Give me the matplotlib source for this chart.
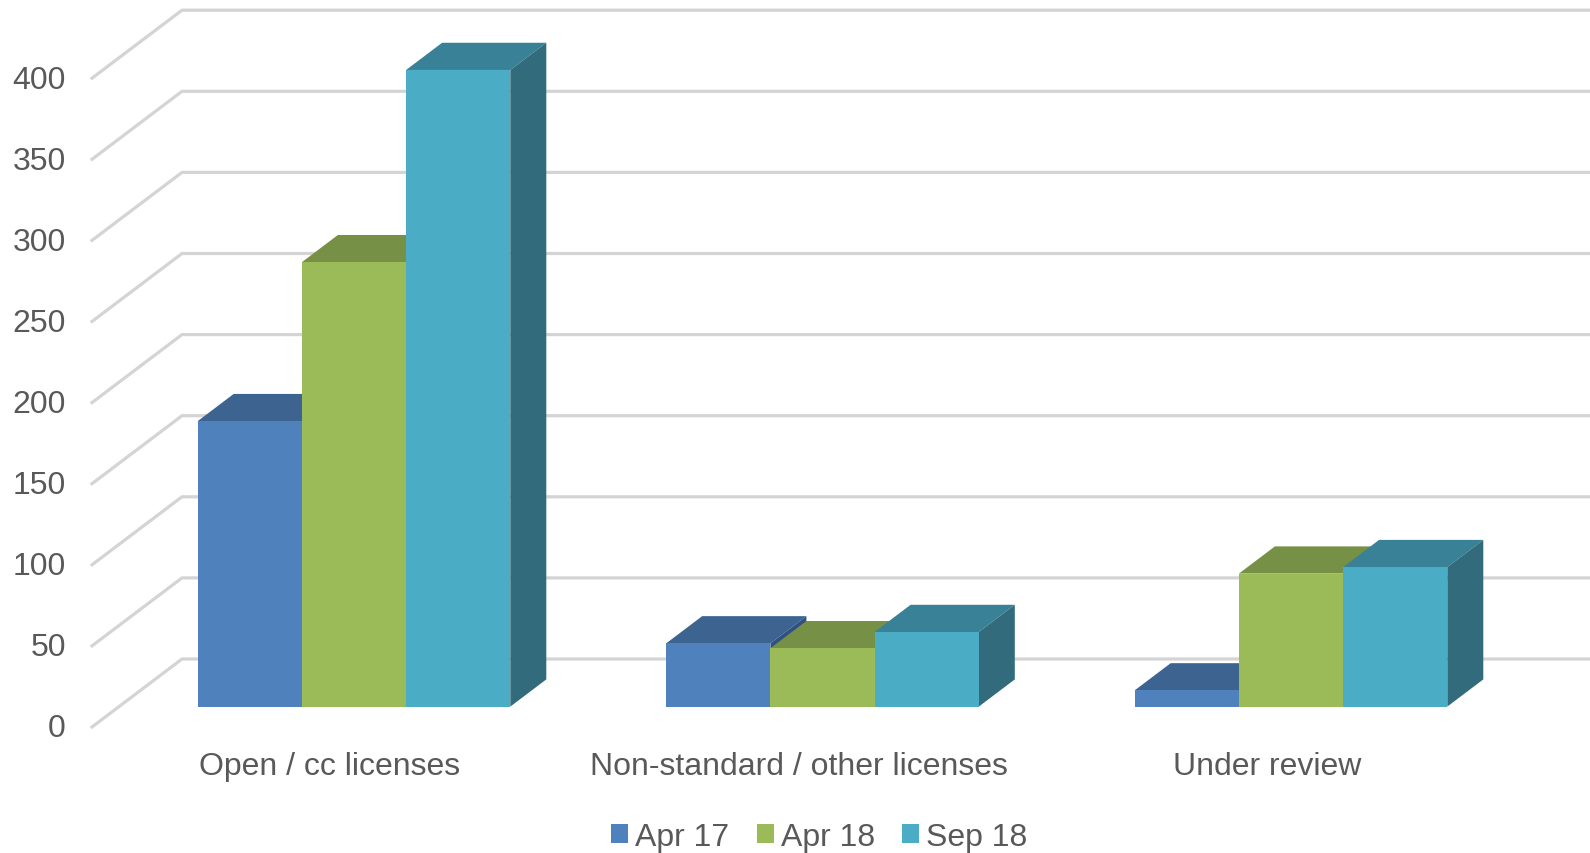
import matplotlib
matplotlib.use("Agg")
import matplotlib.pyplot as plt
from matplotlib.patches import Patch

plt.rcParams['font.family'] = ['Liberation Sans', 'DejaVu Sans']

categories = ['Open / cc licenses', 'Non-standard / other licenses', 'Under review']
series = ['Apr 17', 'Apr 18', 'Sep 18']
apr17 = [176, 39, 10]
apr18 = [274, 36, 82]
sep18 = [392.5, 46, 86]
ticks = [0, 50, 100, 150, 200, 250, 300, 350, 400]

front = ['#4F81BD', '#9BBB59', '#4BACC6']
top = ['#3D6491', '#769045', '#398197']
side = ['#2F5284', '#65803A', '#316B7C']
grid = '#D4D4D4'
text = '#595959'

W, H = 1590, 854
px_x = 468.5      # pixels per category
px_y = 1.622      # pixels per value unit
x0 = 327          # pixel of first category on the front of the floor
y0 = 728          # pixel of value 0 on the front of the floor

# oblique depth of the floor, in data units
depth_x = 90 / px_x
depth_y = 68 / px_y
bar_d0, bar_d1 = 0.30, 0.70
bar_w = 104.2 / px_x

fig = plt.figure(figsize=(W / 100, H / 100), dpi=100)
ax = fig.add_axes([0, 0, 1, 1])
ax.set_xlim(-x0 / px_x, (W - x0) / px_x)
ax.set_ylim(-(H - y0) / px_y, y0 / px_y)
ax.axis('off')

left_wall = -(x0 - 92) / px_x
right_end = ax.get_xlim()[1]

for t in ticks:
    ax.plot([left_wall, left_wall + depth_x, right_end],
            [t, t + depth_y, t + depth_y],
            color=grid, lw=2.3, solid_joinstyle='miter', zorder=1)
    ax.text(left_wall - 26 / px_x, t + 2 / px_y, str(t), ha='right', va='center_baseline',
            fontsize=23, color=text)

dx = (bar_d1 - bar_d0) * depth_x
dy = (bar_d1 - bar_d0) * depth_y
base = bar_d0 * depth_y
z = 2
for i, cat in enumerate(categories):
    ax.text(i + 3 / px_x, -(767 - y0) / px_y, cat, ha='center', va='center',
            fontsize=23, color=text)
    for j, vals in enumerate([apr17, apr18, sep18]):
        v = vals[i]
        l = i + bar_d0 * depth_x + (j - 1.5) * bar_w
        r = l + bar_w
        ax.fill([l, l + dx, r + dx, r], [base + v, base + v + dy, base + v + dy, base + v],
                color=top[j], lw=0, zorder=z)
        ax.fill([r, r + dx, r + dx, r], [base, base + dy, base + v + dy, base + v],
                color=side[j], lw=0, zorder=z)
        ax.bar(l, v, width=bar_w, bottom=base, align='edge', color=front[j], lw=0, zorder=z + 1)
        z += 2

handles = [Patch(facecolor=c, edgecolor='none', label=s) for c, s in zip(front, series)]
ax.legend(handles=handles, loc='center', bbox_to_anchor=(0.5153, 1 - 838 / H), ncol=3,
          frameon=False, fontsize=23, labelcolor=text, handlelength=0.53, handleheight=0.53,
          handletextpad=0.22, columnspacing=0.86, borderpad=0, borderaxespad=0)

fig.savefig('out.png', dpi=100)
